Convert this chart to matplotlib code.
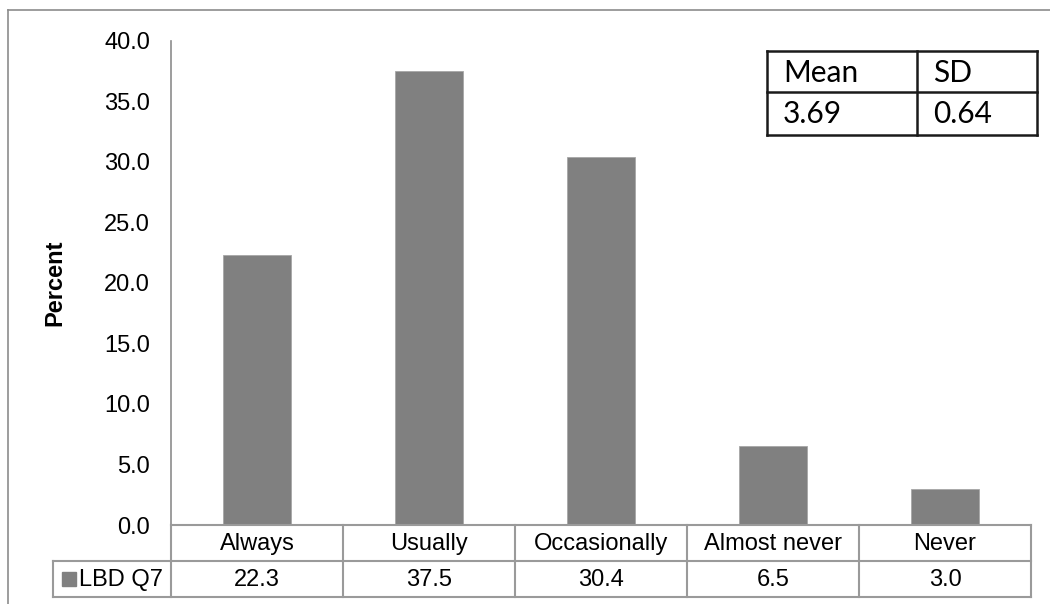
import matplotlib
matplotlib.use("Agg")
import matplotlib.pyplot as plt
from matplotlib.patches import Rectangle
from matplotlib.lines import Line2D

categories = ["Always", "Usually", "Occasionally", "Almost never", "Never"]
values = [22.3, 37.5, 30.4, 6.5, 3.0]
series_name = "LBD Q7"
y_ticks = [0.0, 5.0, 10.0, 15.0, 20.0, 25.0, 30.0, 35.0, 40.0]
stats_header = ["Mean", "SD"]
stats_values = ["3.69", "0.64"]

W, H = 1050, 604
FS = 17
plt.rcParams["font.family"] = ["Liberation Sans", "DejaVu Sans"]
fig = plt.figure(figsize=(W / 100, H / 100), dpi=100)

def fx(px):
    return px / W

def fy(py):
    return 1 - py / H

# chart area frame
fig.add_artist(Line2D([fx(8), fx(8)], [fy(10), 0], color="#8c8c8c", lw=1.2))
fig.add_artist(Line2D([fx(8), 1], [fy(10), fy(10)], color="#8c8c8c", lw=1.2))

ax_l, ax_r, ax_t, ax_b = 171, 1031, 40.6, 525
ax = fig.add_axes([fx(ax_l), fy(ax_b), fx(ax_r - ax_l), (ax_b - ax_t) / H])
x = list(range(len(categories)))
ax.bar(x, values, width=0.4, color="#808080", edgecolor="#a6a6a6", linewidth=0.6)
ax.set_xlim(-0.5, len(categories) - 0.5)
ax.set_ylim(0, 40)
ax.set_yticks(y_ticks)
ax.set_yticklabels([f"{v:.1f}" for v in y_ticks], fontsize=FS)
ax.tick_params(axis="y", length=0, pad=15)
ax.set_xticks([])
for s in ["top", "right", "bottom"]:
    ax.spines[s].set_visible(False)
ax.spines["left"].set_color("#8c8c8c")
ax.spines["left"].set_linewidth(1.2)
fig.text(fx(55), fy((ax_t + ax_b) / 2), "Percent", rotation=90, ha="center", va="center",
         fontsize=FS, fontweight="bold")

# data table below the plot
grid = "#9a9a9a"
px_per_unit = (ax_r - ax_l) / len(categories)
row1_top, row_mid, row2_bot = 525, 561, 597
legend_left = 53

def dx(i):
    return ax_l + (i + 0.5) * px_per_unit

for y in (row1_top, row_mid):
    left = ax_l if y == row1_top else legend_left
    fig.add_artist(Line2D([fx(left), fx(ax_r)], [fy(y), fy(y)], color=grid, lw=1.5))
fig.add_artist(Line2D([fx(legend_left), fx(ax_r)], [fy(row2_bot), fy(row2_bot)], color=grid, lw=1.5))
fig.add_artist(Line2D([fx(legend_left), fx(legend_left)], [fy(row_mid), fy(row2_bot)], color=grid, lw=1.5))
for i in range(len(categories) + 1):
    xp = ax_l + i * px_per_unit
    fig.add_artist(Line2D([fx(xp), fx(xp)], [fy(row1_top), fy(row2_bot)], color=grid, lw=1.5))

for i, (c, v) in enumerate(zip(categories, values)):
    fig.text(fx(dx(i)), fy((row1_top + row_mid) / 2 + 1), c, ha="center", va="center", fontsize=FS)
    fig.text(fx(dx(i)), fy((row_mid + row2_bot) / 2 + 1), f"{v:.1f}", ha="center", va="center", fontsize=FS)

fig.add_artist(Rectangle((fx(62), fy(586)), fx(14), 14 / H, color="#808080"))
fig.text(fx(79), fy((row_mid + row2_bot) / 2 + 1), series_name, ha="left", va="center", fontsize=FS)

# summary statistics box
bx0, bx1, bxm = 767, 1037, 917
by0, by1, bym = 51, 135, 92
box_lw = 1.8
for y in (by0, bym, by1):
    fig.add_artist(Line2D([fx(bx0), fx(bx1)], [fy(y), fy(y)], color="#1a1a1a", lw=box_lw))
for xv in (bx0, bxm, bx1):
    fig.add_artist(Line2D([fx(xv), fx(xv)], [fy(by0), fy(by1)], color="#1a1a1a", lw=box_lw))
for j, (hd, val) in enumerate(zip(stats_header, stats_values)):
    xl = (bx0 if j == 0 else bxm) + 16
    fig.text(fx(xl), fy((by0 + bym) / 2 + 1), hd, ha="left", va="center", fontsize=21.5, family=["Lato", "DejaVu Sans"])
    fig.text(fx(xl), fy((bym + by1) / 2 + 1), val, ha="left", va="center", fontsize=21.5, family=["Lato", "DejaVu Sans"])

fig.savefig("out.png", dpi=100)
